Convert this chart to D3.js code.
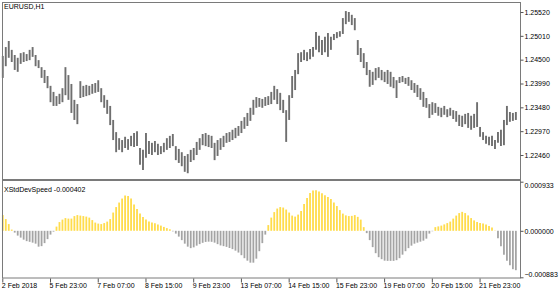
<!DOCTYPE html>
<html>
<head>
<meta charset="utf-8">
<script src="https://cdn.jsdelivr.net/npm/d3@7"></script>
<style>
  body { margin: 0; background: #fff; }
  svg { display: block; font-family: "Liberation Sans", Arial, sans-serif; }
</style>
</head>
<body>
<div id="chart"></div>
<script>

  var highs = [
    1.2458,1.2477,1.2490,1.2471,1.2460,1.2454,1.2464,1.2466,1.2462,1.2471,
    1.2477,1.2460,1.2449,1.2434,1.2428,1.2415,1.2394,1.2381,1.2372,1.2377,
    1.2389,1.2434,1.2417,1.2398,1.2364,1.2355,1.2404,1.2394,1.2396,1.2394,
    1.2398,1.2400,1.2406,1.2389,1.2374,1.2364,1.2351,1.2321,1.2295,1.2282,
    1.2278,1.2285,1.2280,1.2287,1.2293,1.2297,1.2261,1.2257,1.2293,1.2276,
    1.2272,1.2276,1.2270,1.2265,1.2272,1.2282,1.2287,1.2291,1.2265,1.2259,
    1.2252,1.2244,1.2248,1.2257,1.2261,1.2274,1.2282,1.2291,1.2293,1.2289,
    1.2287,1.2272,1.2278,1.2282,1.2287,1.2293,1.2295,1.2300,1.2304,1.2308,
    1.2319,1.2327,1.2336,1.2347,1.2364,1.2370,1.2368,1.2366,1.2370,1.2372,
    1.2381,1.2394,1.2387,1.2379,1.2364,1.2342,1.2374,1.2415,1.2428,1.2464,
    1.2466,1.2471,1.2466,1.2473,1.2477,1.2509,1.2501,1.2492,1.2499,1.2507,
    1.2499,1.2505,1.2509,1.2511,1.2539,1.2554,1.2552,1.2546,1.2539,1.2492,
    1.2475,1.2464,1.2445,1.2428,1.2424,1.2432,1.2434,1.2428,1.2424,1.2428,
    1.2424,1.2413,1.2406,1.2413,1.2415,1.2411,1.2413,1.2406,1.2400,1.2396,
    1.2389,1.2381,1.2368,1.2355,1.2359,1.2357,1.2349,1.2347,1.2351,1.2344,
    1.2347,1.2342,1.2340,1.2332,1.2330,1.2334,1.2336,1.2330,1.2334,1.2359,
    1.2306,1.2295,1.2287,1.2285,1.2287,1.2278,1.2295,1.2300,1.2321,1.2351,
    1.2338,1.2336,1.2338
  ];

  var lows = [
    1.2411,1.2436,1.2454,1.2445,1.2428,1.2424,1.2441,1.2445,1.2447,1.2449,
    1.2456,1.2436,1.2432,1.2411,1.2400,1.2389,1.2359,1.2351,1.2351,1.2355,
    1.2359,1.2374,1.2364,1.2336,1.2321,1.2312,1.2368,1.2370,1.2372,1.2374,
    1.2377,1.2379,1.2381,1.2359,1.2347,1.2334,1.2310,1.2278,1.2252,1.2257,
    1.2252,1.2261,1.2257,1.2265,1.2263,1.2265,1.2225,1.2214,1.2240,1.2248,
    1.2246,1.2252,1.2246,1.2248,1.2252,1.2257,1.2261,1.2265,1.2235,1.2229,
    1.2222,1.2210,1.2207,1.2231,1.2235,1.2246,1.2257,1.2267,1.2265,1.2263,
    1.2261,1.2235,1.2244,1.2257,1.2263,1.2272,1.2274,1.2278,1.2282,1.2287,
    1.2293,1.2302,1.2308,1.2319,1.2332,1.2347,1.2349,1.2347,1.2351,1.2353,
    1.2355,1.2364,1.2355,1.2342,1.2336,1.2274,1.2321,1.2368,1.2385,1.2419,
    1.2445,1.2449,1.2447,1.2451,1.2456,1.2471,1.2466,1.2460,1.2466,1.2456,
    1.2471,1.2492,1.2496,1.2499,1.2505,1.2526,1.2531,1.2524,1.2513,1.2460,
    1.2445,1.2432,1.2417,1.2392,1.2396,1.2406,1.2411,1.2406,1.2402,1.2398,
    1.2392,1.2389,1.2368,1.2400,1.2402,1.2398,1.2394,1.2385,1.2379,1.2370,
    1.2364,1.2349,1.2347,1.2325,1.2332,1.2336,1.2330,1.2327,1.2332,1.2327,
    1.2330,1.2323,1.2317,1.2308,1.2306,1.2312,1.2304,1.2300,1.2304,1.2306,
    1.2285,1.2278,1.2270,1.2267,1.2265,1.2259,1.2272,1.2265,1.2267,1.2310,
    1.2317,1.2319,1.2321
  ];

  var speed = [
    0.000299,0.000223,0.000128,0.000023,-0.000034,-0.000091,-0.000129,-0.000168,-0.000196,-0.000209,
    -0.000225,-0.000244,-0.000301,-0.000291,-0.000234,-0.000158,-0.000072,-0.000015,0.000080,0.000166,
    0.000213,0.000242,0.000232,0.000232,0.000280,0.000299,0.000289,0.000280,0.000270,0.000251,
    0.000204,0.000156,0.000137,0.000128,0.000147,0.000175,0.000223,0.000347,0.000451,0.000537,
    0.000613,0.000670,0.000661,0.000613,0.000499,0.000413,0.000327,0.000261,0.000213,0.000175,
    0.000156,0.000143,0.000118,0.000099,0.000074,0.000051,0.000029,-0.000010,-0.000053,-0.000110,
    -0.000177,-0.000244,-0.000301,-0.000329,-0.000314,-0.000282,-0.000253,-0.000228,-0.000211,-0.000206,
    -0.000209,-0.000225,-0.000253,-0.000278,-0.000291,-0.000305,-0.000326,-0.000348,-0.000377,-0.000413,
    -0.000463,-0.000520,-0.000567,-0.000605,-0.000605,-0.000529,-0.000387,-0.000234,-0.000072,0.000109,
    0.000251,0.000356,0.000423,0.000451,0.000442,0.000404,0.000347,0.000289,0.000270,0.000308,
    0.000375,0.000508,0.000623,0.000718,0.000765,0.000771,0.000746,0.000712,0.000676,0.000642,
    0.000604,0.000537,0.000470,0.000394,0.000327,0.000293,0.000280,0.000284,0.000299,0.000265,
    0.000213,0.000070,-0.000044,-0.000177,-0.000310,-0.000425,-0.000501,-0.000539,-0.000567,-0.000571,
    -0.000571,-0.000571,-0.000558,-0.000520,-0.000453,-0.000387,-0.000329,-0.000282,-0.000244,-0.000225,
    -0.000206,-0.000187,-0.000149,-0.000053,-0.000008,0.000070,0.000084,0.000099,0.000122,0.000147,
    0.000175,0.000232,0.000289,0.000337,0.000360,0.000337,0.000293,0.000242,0.000198,0.000166,
    0.000150,0.000141,0.000118,0.000093,0.000061,0.000004,-0.000139,-0.000291,-0.000453,-0.000567,
    -0.000653,-0.000729,-0.000748
  ];

  var dateTickIndex = [0, 16, 32, 48, 64, 80, 96, 112, 128, 144, 160];
  var dateLabels = ["2 Feb 2018", "5 Feb 23:00", "7 Feb 07:00", "8 Feb 15:00", "9 Feb 23:00",
      "13 Feb 07:00", "14 Feb 15:00", "15 Feb 23:00", "19 Feb 07:00", "20 Feb 15:00", "21 Feb 23:00"];

  var priceTicks = [1.25520, 1.25010, 1.24500, 1.23990, 1.23480, 1.22970, 1.22460];
  var speedTicks = [0.000933, 0, -0.000883];

// layout

  var w = 560;
  var h = 294;
  var left = 2, right = 520;
  var main = {top: 2, bottom: 179};
  var sub = {top: 181, bottom: 278};
  var step = 2.983;
  var n = highs.length;

  var xScale = d3.scaleBand()
      .domain(d3.range(n))
      .range([1.3, 1.3 + n * step]);

  var yPrice = d3.scaleLinear()
      .domain([1.22460, 1.25520])
      .range([155, 12]);

  var ySpeed = d3.scaleLinear()
      .domain([-0.000883, 0.000933])
      .range([277.3, 181.7]);

  var cx = i => xScale(i) + xScale.bandwidth() / 2;

  var svg = d3.select("#chart")
    .append("svg")
      .attr("width", w)
      .attr("height", h);

  svg.append("rect")
      .attr("width", w)
      .attr("height", h)
      .attr("fill", "#fff");

// price bars

  svg.append("g")
    .selectAll("line")
    .data(highs)
    .enter().append("line")
      .attr("x1", (d, i) => cx(i))
      .attr("x2", (d, i) => cx(i))
      .attr("y1", d => yPrice(d))
      .attr("y2", (d, i) => yPrice(lows[i]))
      .attr("stroke", "#6f6f6f")
      .attr("stroke-width", 1.9);

// histogram

  svg.append("g")
    .selectAll("line")
    .data(speed)
    .enter().append("line")
      .attr("x1", (d, i) => cx(i))
      .attr("x2", (d, i) => cx(i))
      .attr("y1", ySpeed(0))
      .attr("y2", d => ySpeed(d))
      .attr("stroke", d => d >= 0 ? "#ffdc4c" : "#a4a4a4")
      .attr("stroke-width", 1.8);

// frames

  svg.append("rect")
      .attr("x", left + 0.5)
      .attr("y", main.top + 0.5)
      .attr("width", right - left)
      .attr("height", main.bottom - main.top)
      .attr("fill", "none")
      .attr("stroke", "#7a7a7a");

  svg.append("rect")
      .attr("x", left + 0.5)
      .attr("y", sub.top - 0.5)
      .attr("width", right - left)
      .attr("height", sub.bottom - sub.top + 0.5)
      .attr("fill", "none")
      .attr("stroke", "#7a7a7a");

// axes

  var priceAxis = d3.axisRight(yPrice)
      .tickValues(priceTicks)
      .tickSize(3)
      .tickPadding(1)
      .tickFormat(d3.format(".5f"));

  var speedAxis = d3.axisRight(ySpeed)
      .tickValues(speedTicks)
      .tickSize(3)
      .tickPadding(1)
      .tickFormat(d3.format(".6f"));

  var dateAxis = d3.axisBottom(xScale)
      .tickValues(dateTickIndex)
      .tickSize(4)
      .tickFormat((d, i) => dateLabels[i]);

  var gp = svg.append("g")
      .attr("transform", `translate(${right + 0.5}, 0)`)
      .call(priceAxis);

  var gs = svg.append("g")
      .attr("transform", `translate(${right + 0.5}, 0)`)
      .call(speedAxis);

  gs.selectAll(".tick text")
      .attr("dy", d => d > 0 ? "0.85em" : d < 0 ? "-0.1em" : "0.32em");

  var gd = svg.append("g")
      .attr("transform", `translate(0, ${sub.bottom + 0.5})`)
      .call(dateAxis);

  gd.selectAll(".tick text")
      .attr("text-anchor", "start")
      .attr("x", -1)
      .attr("y", 5);

  svg.selectAll(".domain").remove();

  [gp, gs, gd].forEach(g => g
      .attr("font-family", "'Liberation Sans', Arial, sans-serif")
      .attr("font-size", 7)
      .attr("color", "#000")
      .selectAll(".tick line").attr("stroke", "#555"));

// labels

  svg.append("text")
      .attr("x", 4)
      .attr("y", 9.3)
      .attr("font-size", 7)
      .text("EURUSD,H1");

  svg.append("text")
      .attr("x", 4)
      .attr("y", 191.5)
      .attr("font-size", 7)
      .text("XStdDevSpeed -0.000402");

</script>
</body>
</html>
